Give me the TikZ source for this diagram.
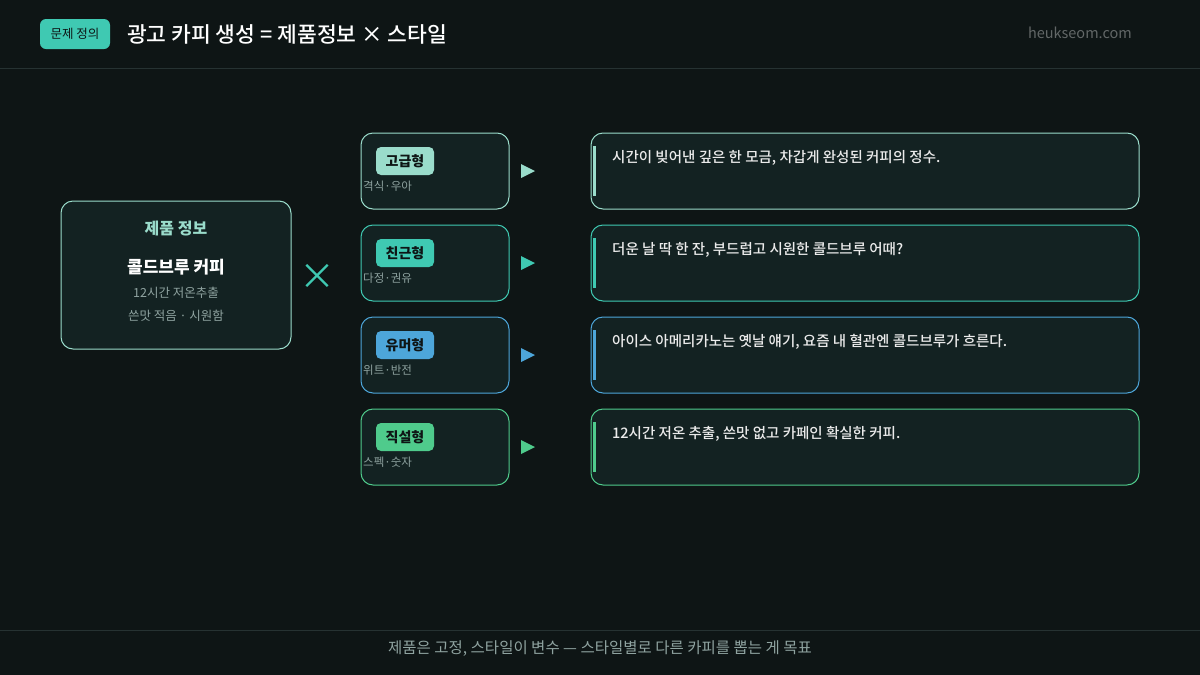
\documentclass[tikz,border=0pt]{standalone}
\usepackage{fontspec}
\setmainfont{Noto Sans CJK KR}
\newfontfamily\medf{Noto Sans CJK KR Medium}
\begin{document}
\begin{tikzpicture}[x=1pt,y=-1pt,
  card/.style={draw=#1,line width=1pt,rounded corners=12pt,fill=cardbg},
  badge/.style={fill=#1,rounded corners=5pt,minimum width=58pt,minimum height=28pt,inner sep=0pt,font=\fontsize{14}{14}\selectfont\bfseries,text=bgd},
  sub/.style={font=\fontsize{11.5}{11.5}\selectfont,text=mutetxt,anchor=west,inner sep=0pt},
  copytxt/.style={font=\fontsize{14.5}{15}\selectfont,text=white!92!black,anchor=west,inner sep=0pt}]
\definecolor{bgd}{HTML}{0E1515}
\definecolor{cardbg}{HTML}{132222}
\definecolor{mutetxt}{HTML}{8FA3A0}
\definecolor{cA}{HTML}{9ADCCB}
\definecolor{cB}{HTML}{3FC9B2}
\definecolor{cC}{HTML}{4DA6DA}
\definecolor{cD}{HTML}{4FCB8C}
\definecolor{lineg}{HTML}{263232}
\fill[bgd] (0,0) rectangle (1200,675);
\useasboundingbox (0,0) rectangle (1200,675);
\draw[lineg] (0,68.5) -- (1200,68.5);
\draw[lineg] (0,630.5) -- (1200,630.5);
% header
\node[fill=cB,rounded corners=6pt,minimum width=70pt,minimum height=30pt,inner sep=0pt,font=\fontsize{12.5}{12.5}\selectfont,text=bgd] (tag) at (75,34) {문제 정의};
\node[anchor=west,inner sep=0pt,font=\fontsize{21.5}{21.5}\selectfont\medf,text=white] (title) at (127,34) {광고 카피 생성 = 제품정보 × 스타일};
\node[anchor=east,inner sep=0pt,font=\fontsize{14.5}{14.5}\selectfont,text=white!35!bgd] (site) at (1132,33) {heukseom.com};
\node[inner sep=0pt,font=\fontsize{15.5}{15.5}\selectfont,text=mutetxt] (foot) at (600,649) {제품은 고정, 스타일이 변수 — 스타일별로 다른 카피를 뽑는 게 목표};
% product
\draw[card=cA] (61,201) rectangle (291,349);
\node[font=\fontsize{16}{16}\selectfont\bfseries,text=cA] (ph) at (176,229) {제품 정보};
\node[font=\fontsize{17}{17}\selectfont\bfseries,text=white] (pn) at (176,267) {콜드브루 커피};
\node[font=\fontsize{12.5}{12.5}\selectfont,text=mutetxt] (p1) at (176,293) {12시간 저온추출};
\node[font=\fontsize{12.5}{12.5}\selectfont,text=mutetxt] (p2) at (176,316) {쓴맛 적음 · 시원함};
\node[font=\fontsize{36}{36}\selectfont,text=cB] (x) at (317,277) {×};
% rows
\foreach \c/\b/\s/\t/\yy in {cA/고급형/격식·우아/{시간이 빚어낸 깊은 한 모금, 차갑게 완성된 커피의 정수.}/133,
  cB/친근형/다정·권유/{더운 날 딱 한 잔, 부드럽고 시원한 콜드브루 어때?}/225,
  cC/유머형/위트·반전/{아이스 아메리카노는 옛날 얘기, 요즘 내 혈관엔 콜드브루가 흐른다.}/317,
  cD/직설형/스펙·숫자/{12시간 저온 추출, 쓴맛 없고 카페인 확실한 커피.}/409}{
  \draw[card=\c] (361,\yy) rectangle (509,\yy+76);
  \node[badge=\c] (b\yy) at (405,\yy+28) {\b};
  \node[sub] (s\yy) at (363,\yy+53) {\s};
  \fill[\c] (521,\yy+31) -- (535,\yy+38) -- (521,\yy+45) -- cycle;
  \draw[card=\c] (591,\yy) rectangle (1139,\yy+76);
  \fill[\c] (592.5,\yy+13) rectangle (595.5,\yy+63);
  \node[copytxt] (t\yy) at (612,\yy+25) {\medf\t};
}
\end{tikzpicture}
\end{document}
